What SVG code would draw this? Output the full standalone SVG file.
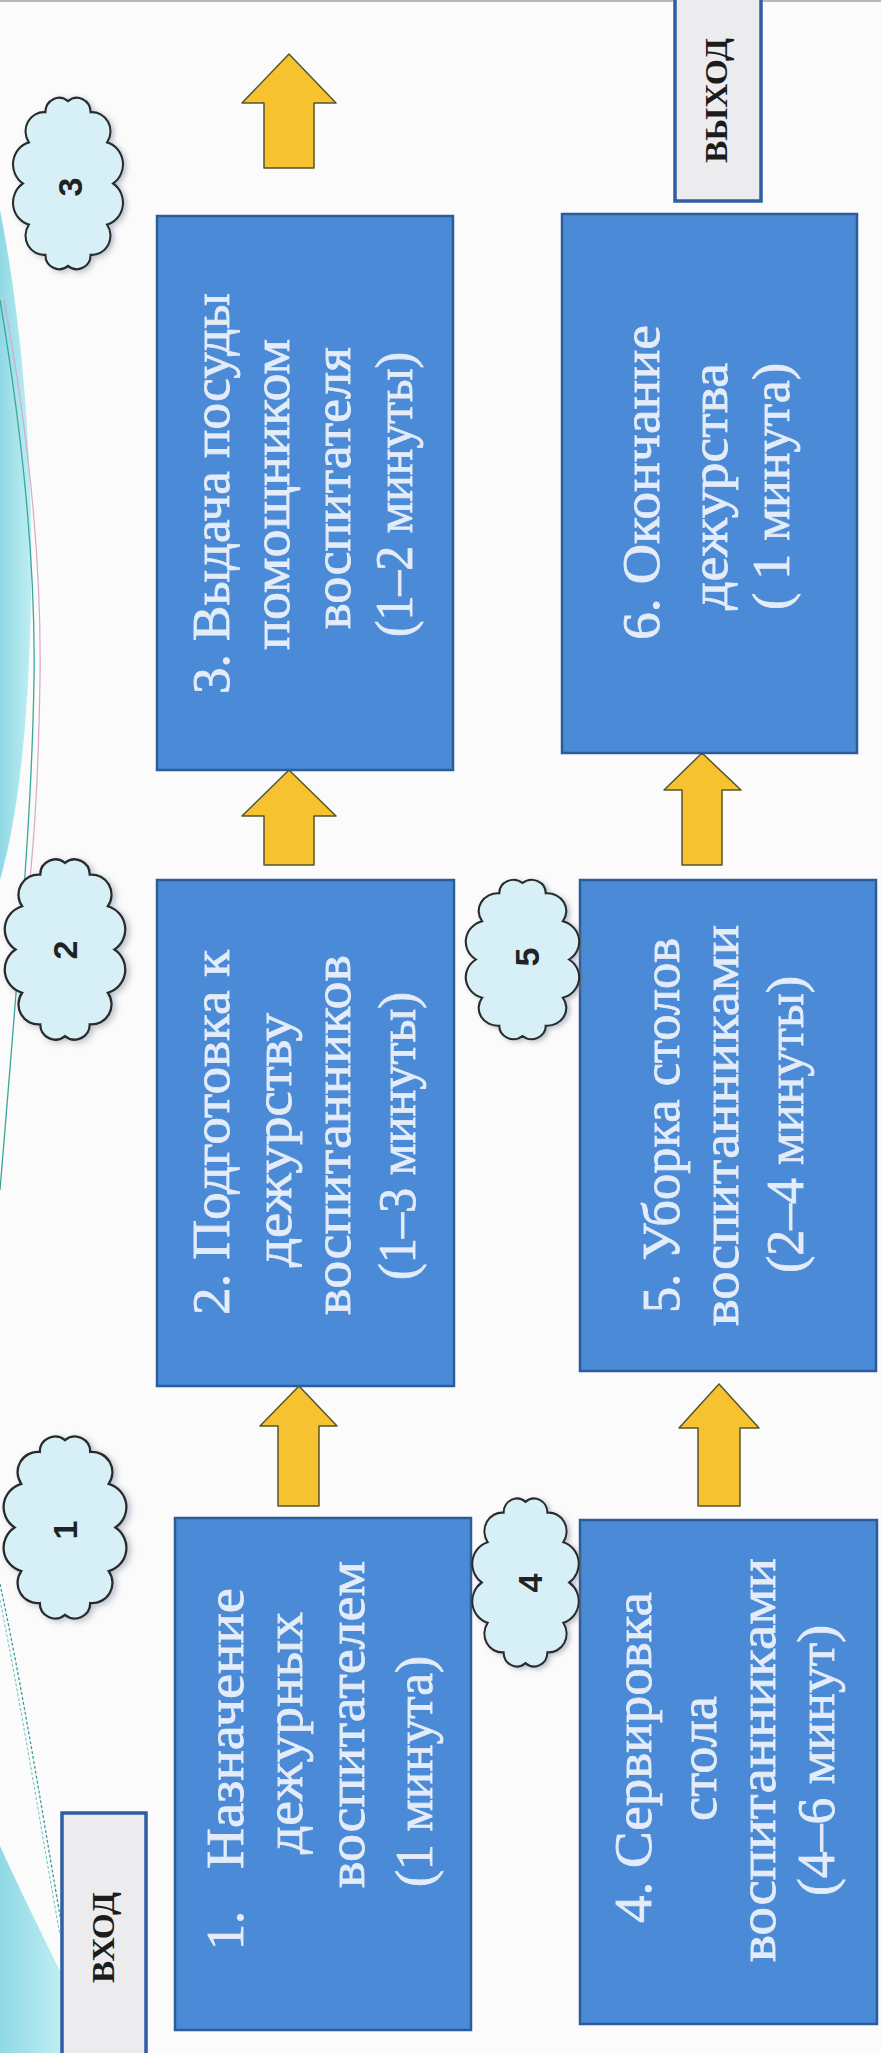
<svg xmlns="http://www.w3.org/2000/svg" xmlns:xlink="http://www.w3.org/1999/xlink" width="881" height="2053" viewBox="0 0 881 2053">
<style>
.box{fill:#4b8ad6;stroke:#2c5c99;stroke-width:2.5}
.term{fill:#ececee;stroke:#2f5ea6;stroke-width:3.5}
.t{font-family:"Liberation Serif","Times New Roman",serif;font-size:52px;fill:#e3ecf8;stroke:#e3ecf8;stroke-width:0.8}
.tt{font-family:"Liberation Serif","Times New Roman",serif;font-size:32px;font-weight:bold;fill:#1c1c1c}
.num{font-family:"Liberation Sans",Arial,sans-serif;font-size:34px;font-weight:bold;fill:#222}
.arr{fill:#f6c230;stroke:#55552e;stroke-width:1.5;stroke-linejoin:round}
.cl{fill:#d7f0f7;stroke:#2b2b2b;stroke-width:2.2}
</style>
<defs>
<path id="cloud" d="M 0 -84 A 14.6 14.6 0 0 1 24 -72.7 A 19.5 19.5 0 0 1 41.6 -42 A 23.4 23.4 0 0 1 48 0 A 23.4 23.4 0 0 1 41.6 42 A 19.5 19.5 0 0 1 24 72.7 A 14.6 14.6 0 0 1 0 84 A 14.6 14.6 0 0 1 -24 72.7 A 19.5 19.5 0 0 1 -41.6 42 A 23.4 23.4 0 0 1 -48 0 A 23.4 23.4 0 0 1 -41.6 -42 A 19.5 19.5 0 0 1 -24 -72.7 A 14.6 14.6 0 0 1 0 -84 Z"/>
<filter id="sh" x="-20%" y="-20%" width="140%" height="140%">
<feDropShadow dx="3" dy="2" stdDeviation="3" flood-color="#6a7a90" flood-opacity="0.45"/>
</filter>
<linearGradient id="cy" x1="0" y1="0" x2="1" y2="0">
<stop offset="0" stop-color="#8fd9e4"/>
<stop offset="1" stop-color="#bfeef3"/>
</linearGradient>
</defs>
<rect width="881" height="2053" fill="#fbfbfb"/>
<rect width="881" height="2" fill="#b8b8b8"/>
<g id="decor">
<path d="M 0 210 C 18 300 34 440 31 600 C 28 750 14 830 0 880 Z" fill="url(#cy)"/>
<path d="M 0 300 C 20 420 36 550 34 680 C 32 800 24 900 0 1190" fill="none" stroke="#3aa79a" stroke-width="1.3"/>
<path d="M 4 300 C 26 420 42 550 40 680 C 38 800 32 880 20 960" fill="none" stroke="#d6a9c6" stroke-width="1.2"/>
<path d="M 0 1846 C 20 1890 45 1940 62 1975 L 62 2053 L 0 2053 Z" fill="url(#cy)"/>
<path d="M 0 1584 C 25 1700 45 1830 62 1927" fill="none" stroke="#3a9e9a" stroke-width="1.3" stroke-dasharray="3 2"/>
<path d="M 0 1600 C 22 1710 42 1835 60 1935" fill="none" stroke="#7cc6c0" stroke-width="1.1" stroke-dasharray="3 2"/>
</g>
<g id="connectors">
<polygon class="arr" points="289,54 336,103 314,103 314,168 264,168 264,103 242,103"/>
<polygon class="arr" points="289,770 336,816 314,816 314,865 264,865 264,816 242,816"/>
<polygon class="arr" points="299,1386 337,1426 319,1426 319,1506 278,1506 278,1426 260,1426"/>
<polygon class="arr" points="719,1384 759,1428 740,1428 740,1506 698,1506 698,1428 679,1428"/>
<polygon class="arr" points="702,753 741,790 722,790 722,865 682,865 682,790 664,790"/>
</g>
<g id="vhod">
<rect class="term" x="62" y="1813" width="84" height="250"/>
<text class="tt" transform="translate(114,1983) rotate(-90)" textLength="91" lengthAdjust="spacingAndGlyphs">ВХОД</text>
</g>
<g id="vyhod">
<rect class="term" x="675" y="-5" width="86" height="206"/>
<text class="tt" transform="translate(727,163) rotate(-90)" textLength="125" lengthAdjust="spacingAndGlyphs">ВЫХОД</text>
</g>
<g id="step1">
<rect class="box" x="175" y="1518" width="296" height="512"/>
<text class="t" transform="translate(243,1950) rotate(-90)"><tspan x="0">1.</tspan><tspan x="81" textLength="281" lengthAdjust="spacingAndGlyphs">Назначение</tspan></text>
<text class="t" transform="translate(302,1854) rotate(-90)" textLength="242" lengthAdjust="spacingAndGlyphs">дежурных</text>
<text class="t" transform="translate(364,1888) rotate(-90)" textLength="327" lengthAdjust="spacingAndGlyphs">воспитателем</text>
<text class="t" transform="translate(432,1887) rotate(-90)" textLength="231" lengthAdjust="spacingAndGlyphs">(1 минута)</text>
</g>
<g id="step2">
<rect class="box" x="157" y="880" width="297" height="506"/>
<text class="t" transform="translate(229,1315) rotate(-90)" textLength="365" lengthAdjust="spacingAndGlyphs">2. Подготовка к</text>
<text class="t" transform="translate(291,1267) rotate(-90)" textLength="254" lengthAdjust="spacingAndGlyphs">дежурству</text>
<text class="t" transform="translate(350,1315) rotate(-90)" textLength="360" lengthAdjust="spacingAndGlyphs">воспитанников</text>
<text class="t" transform="translate(415,1280) rotate(-90)" textLength="288" lengthAdjust="spacingAndGlyphs">(1–3 минуты)</text>
</g>
<g id="step3">
<rect class="box" x="157" y="216" width="296" height="554"/>
<text class="t" transform="translate(229,694) rotate(-90)" textLength="401" lengthAdjust="spacingAndGlyphs">3. Выдача посуды</text>
<text class="t" transform="translate(289,650) rotate(-90)" textLength="311" lengthAdjust="spacingAndGlyphs">помощником</text>
<text class="t" transform="translate(350,629) rotate(-90)" textLength="282" lengthAdjust="spacingAndGlyphs">воспитателя</text>
<text class="t" transform="translate(412,637) rotate(-90)" textLength="285" lengthAdjust="spacingAndGlyphs">(1–2 минуты)</text>
</g>
<g id="step4">
<rect class="box" x="580" y="1520" width="297" height="504"/>
<text class="t" transform="translate(651,1923) rotate(-90)" textLength="331" lengthAdjust="spacingAndGlyphs">4. Сервировка</text>
<text class="t" transform="translate(716,1821) rotate(-90)" textLength="125" lengthAdjust="spacingAndGlyphs">стола</text>
<text class="t" transform="translate(775,1962) rotate(-90)" textLength="404" lengthAdjust="spacingAndGlyphs">воспитанниками</text>
<text class="t" transform="translate(834,1896) rotate(-90)" textLength="271" lengthAdjust="spacingAndGlyphs">(4–6 минут)</text>
</g>
<g id="step5">
<rect class="box" x="580" y="880" width="296" height="491"/>
<text class="t" transform="translate(679,1313) rotate(-90)" textLength="375" lengthAdjust="spacingAndGlyphs">5. Уборка столов</text>
<text class="t" transform="translate(738,1326) rotate(-90)" textLength="401" lengthAdjust="spacingAndGlyphs">воспитанниками</text>
<text class="t" transform="translate(803,1273) rotate(-90)" textLength="297" lengthAdjust="spacingAndGlyphs">(2–4 минуты)</text>
</g>
<g id="step6">
<rect class="box" x="562" y="214" width="295" height="539"/>
<text class="t" transform="translate(659,640) rotate(-90)" textLength="315" lengthAdjust="spacingAndGlyphs">6. Окончание</text>
<text class="t" transform="translate(727,610) rotate(-90)" textLength="247" lengthAdjust="spacingAndGlyphs">дежурства</text>
<text class="t" transform="translate(789,610) rotate(-90)" textLength="247" lengthAdjust="spacingAndGlyphs">( 1 минута)</text>
</g>
<g id="cloud1">
<use href="#cloud" class="cl" filter="url(#sh)" transform="translate(65,1527.5) scale(1.05,1.04)"/>
<text class="num" transform="translate(65,1530) rotate(-90)" text-anchor="middle" dominant-baseline="central">1</text>
</g>
<g id="cloud2">
<use href="#cloud" class="cl" filter="url(#sh)" transform="translate(65,949.5) scale(1.03,1.03)"/>
<text class="num" transform="translate(65,950) rotate(-90)" text-anchor="middle" dominant-baseline="central">2</text>
</g>
<g id="cloud3">
<use href="#cloud" class="cl" filter="url(#sh)" transform="translate(68,183.5) scale(0.94,0.98)"/>
<text class="num" transform="translate(70,187) rotate(-90)" text-anchor="middle" dominant-baseline="central">3</text>
</g>
<g id="cloud4">
<use href="#cloud" class="cl" filter="url(#sh)" transform="translate(525.5,1582.5) scale(0.91,0.96)"/>
<text class="num" transform="translate(530,1583) rotate(-90)" text-anchor="middle" dominant-baseline="central">4</text>
</g>
<g id="cloud5">
<use href="#cloud" class="cl" filter="url(#sh)" transform="translate(522.5,959.5) scale(0.97,0.91)"/>
<text class="num" transform="translate(527,957) rotate(-90)" text-anchor="middle" dominant-baseline="central">5</text>
</g>
</svg>
